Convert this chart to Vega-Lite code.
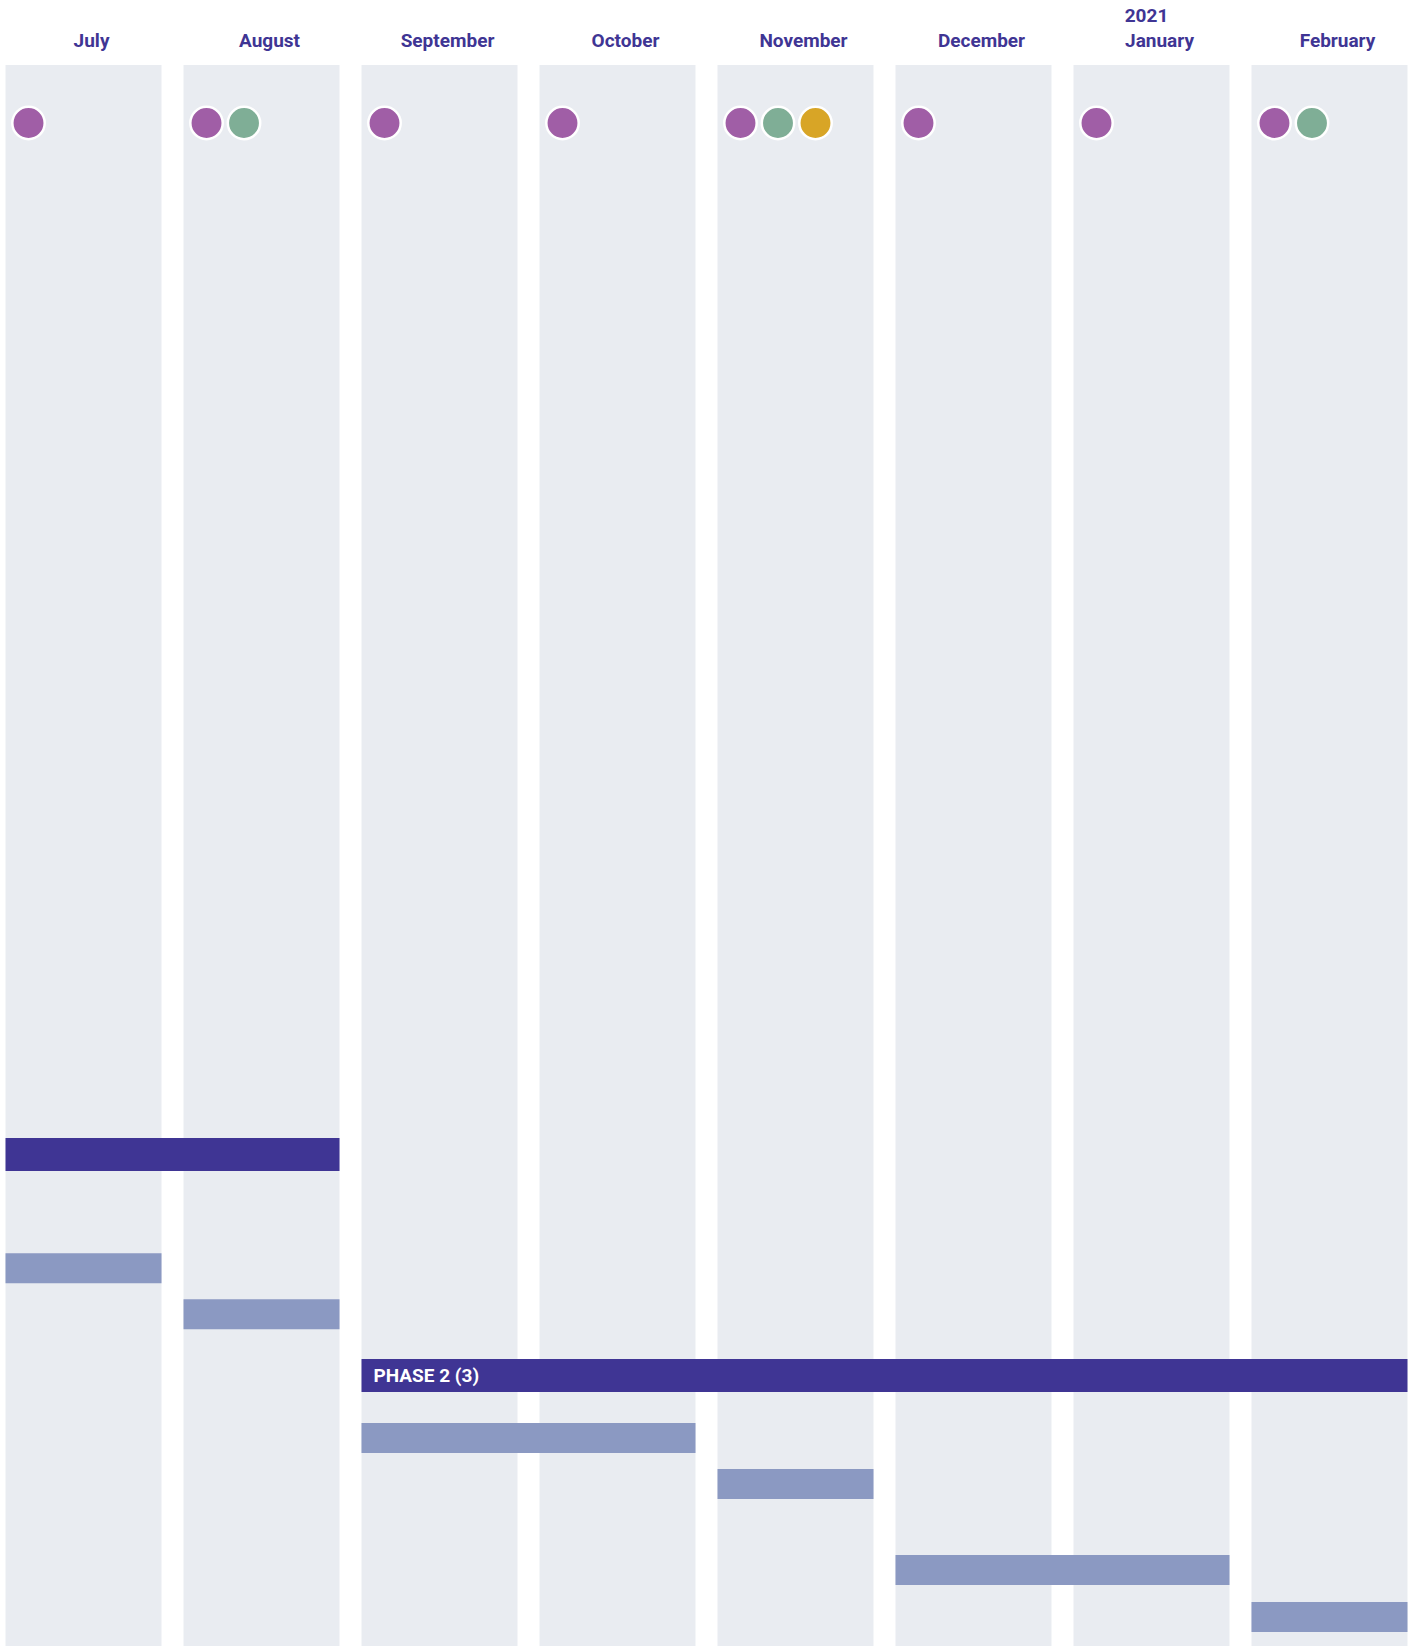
{
  "$schema": "https://vega.github.io/schema/vega-lite/v6.json",
  "autosize": {"type": "none"},
  "width": 1413,
  "height": 1646,
  "padding": 0,
  "background": "white",
  "config": {"view": {"stroke": null}},
  "datasets": {
    "months": [
      {"month": "July", "year": ""},
      {"month": "August", "year": ""},
      {"month": "September", "year": ""},
      {"month": "October", "year": ""},
      {"month": "November", "year": ""},
      {"month": "December", "year": ""},
      {"month": "January", "year": "2021"},
      {"month": "February", "year": ""}
    ],
    "milestones": [
      {"month": "July", "type": "A"},
      {"month": "August", "type": "A"},
      {"month": "August", "type": "B"},
      {"month": "September", "type": "A"},
      {"month": "October", "type": "A"},
      {"month": "November", "type": "A"},
      {"month": "November", "type": "B"},
      {"month": "November", "type": "C"},
      {"month": "December", "type": "A"},
      {"month": "January", "type": "A"},
      {"month": "February", "type": "A"},
      {"month": "February", "type": "B"}
    ],
    "tasks": [
      {"task": "Phase 1", "kind": "phase", "start": "July", "end": "August", "lane": 25.1, "label": ""},
      {"task": "Task 1", "kind": "task", "start": "July", "end": "July", "lane": 27.57, "label": ""},
      {"task": "Task 2", "kind": "task", "start": "August", "end": "August", "lane": 28.57, "label": ""},
      {"task": "Phase 2", "kind": "phase", "start": "September", "end": "February", "lane": 29.9, "label": "PHASE 2 (3)"},
      {"task": "Task 3", "kind": "task", "start": "September", "end": "October", "lane": 31.26, "label": ""},
      {"task": "Task 4", "kind": "task", "start": "November", "end": "November", "lane": 32.26, "label": ""},
      {"task": "Task 5", "kind": "task", "start": "December", "end": "January", "lane": 34.13, "label": ""},
      {"task": "Task 6", "kind": "task", "start": "February", "end": "February", "lane": 35.15, "label": ""}
    ]
  },
  "encoding": {
    "x": {
      "field": "month",
      "type": "ordinal",
      "axis": null,
      "scale": {
        "type": "band",
        "domain": ["July", "August", "September", "October", "November", "December", "January", "February"],
        "paddingInner": 0.1236,
        "paddingOuter": 0.031
      }
    }
  },
  "layer": [
    {
      "data": {"name": "months"},
      "mark": {"type": "rect", "color": "#E9ECF1"},
      "encoding": {
        "x": {"field": "month", "type": "ordinal", "bandPosition": 0},
        "x2": {"field": "month", "bandPosition": 1},
        "y": {"datum": 1.413, "type": "quantitative", "axis": null, "scale": {"domain": [0, 35.783], "reverse": true, "zero": false, "nice": false, "padding": 0}},
        "y2": {"datum": 35.783}
      }
    },
    {
      "data": {"name": "tasks"},
      "transform": [{"filter": "datum.kind === 'task'"}],
      "mark": {"type": "bar", "orient": "horizontal", "height": 30, "color": "#8B99C2"},
      "encoding": {
        "x": {"field": "start", "type": "ordinal", "bandPosition": 0},
        "x2": {"field": "end", "bandPosition": 1},
        "y": {"field": "lane", "type": "quantitative"}
      }
    },
    {
      "data": {"name": "tasks"},
      "transform": [{"filter": "datum.kind === 'phase'"}],
      "mark": {"type": "bar", "orient": "horizontal", "height": 33, "color": "#3F3594"},
      "encoding": {
        "x": {"field": "start", "type": "ordinal", "bandPosition": 0},
        "x2": {"field": "end", "bandPosition": 1},
        "y": {"field": "lane", "type": "quantitative"}
      }
    },
    {
      "data": {"name": "tasks"},
      "transform": [{"filter": "datum.label !== ''"}],
      "mark": {"type": "text", "align": "left", "baseline": "middle", "dx": 12, "dy": 1, "color": "white", "fontSize": 19, "fontWeight": "bold", "font": "Roboto"},
      "encoding": {
        "x": {"field": "start", "type": "ordinal", "bandPosition": 0},
        "y": {"field": "lane", "type": "quantitative"},
        "text": {"field": "label"}
      }
    },
    {
      "data": {"name": "milestones"},
      "mark": {"type": "circle", "size": 1050, "opacity": 1, "stroke": "white", "strokeWidth": 2.5},
      "encoding": {
        "xOffset": {"field": "type", "type": "nominal", "scale": {"type": "point", "domain": ["A", "B", "C"], "range": [23, 98], "padding": 0}},
        "y": {"datum": 2.674, "type": "quantitative"},
        "color": {"field": "type", "type": "nominal", "legend": null, "scale": {"domain": ["A", "B", "C"], "range": ["#A05EA6", "#7FAE96", "#D8A526"]}}
      }
    },
    {
      "data": {"name": "months"},
      "mark": {"type": "text", "align": "center", "baseline": "middle", "dx": 8, "color": "#3F3594", "fontSize": 19, "fontWeight": "bold", "font": "Roboto"},
      "encoding": {
        "y": {"datum": 0.902, "type": "quantitative"},
        "text": {"field": "month"}
      }
    },
    {
      "data": {"name": "months"},
      "transform": [{"filter": "datum.year !== ''"}],
      "mark": {"type": "text", "align": "center", "baseline": "middle", "dx": -5, "color": "#3F3594", "fontSize": 19, "fontWeight": "bold", "font": "Roboto"},
      "encoding": {
        "y": {"datum": 0.35, "type": "quantitative"},
        "text": {"field": "year"}
      }
    }
  ]
}
